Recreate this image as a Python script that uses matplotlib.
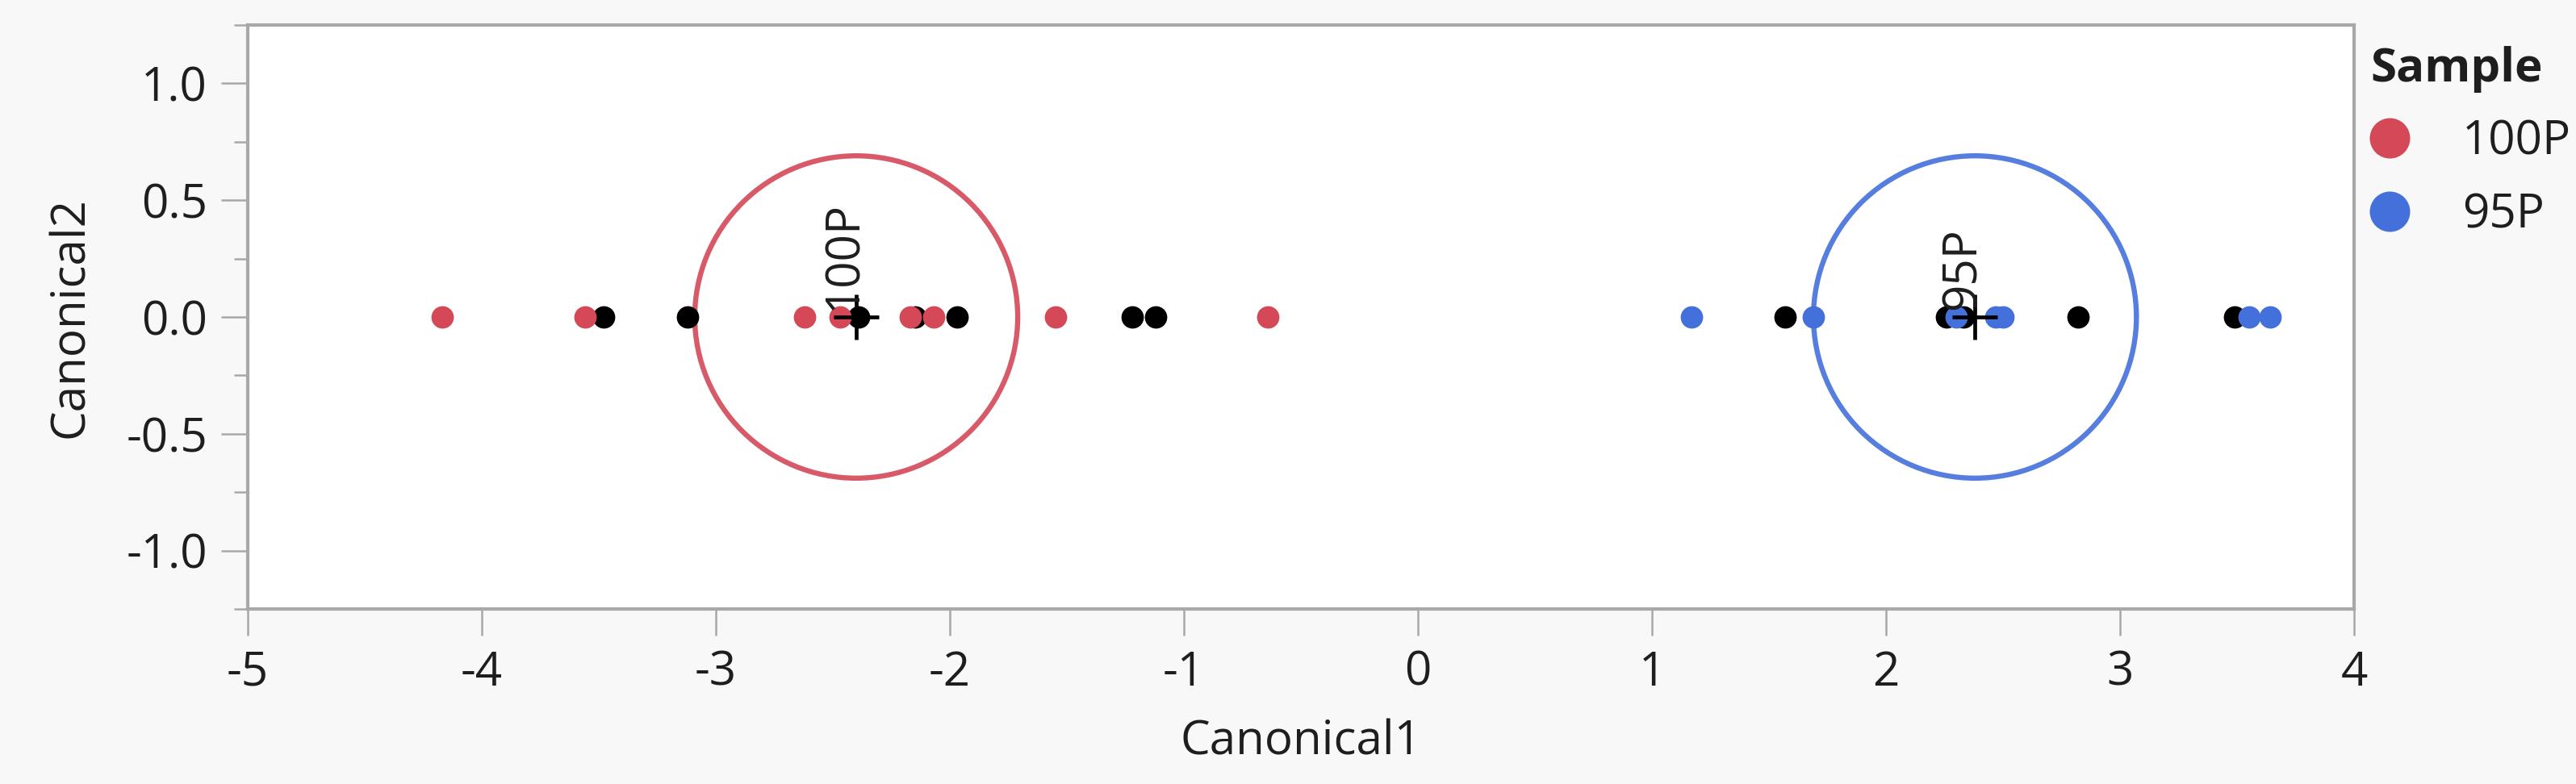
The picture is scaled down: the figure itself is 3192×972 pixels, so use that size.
import matplotlib
matplotlib.use('Agg')
import matplotlib.pyplot as plt
from matplotlib.patches import Circle
from matplotlib.lines import Line2D
from matplotlib.ticker import MultipleLocator

plt.rcParams['font.family'] = ['Open Sans', 'DejaVu Sans']
plt.rcParams['axes.unicode_minus'] = False

# ---- data ----
red_x = [-4.17, -3.56, -2.62, -2.47, -2.17, -2.07, -1.55, -0.64]
red_y = [0.0, 0.0, 0.0, 0.0, 0.0, 0.0, 0.0, 0.0]
blue_x = [1.17, 1.69, 2.30, 2.47, 2.50, 3.55, 3.64]
blue_y = [0.0, 0.0, 0.0, 0.0, 0.0, 0.0, 0.0]
black_x = [-3.48, -3.12, -2.39, -2.15, -1.97, -1.22, -1.12, 1.57, 2.26, 2.33, 2.82, 3.49]
black_y = [0.0, 0.0, 0.0, 0.0, 0.0, 0.0, 0.0, 0.0, 0.0, 0.0, 0.0, 0.0]
group_names = ['100P', '95P']
centroid_x = [-2.40, 2.38]
centroid_y = [0.0, 0.0]
circle_radius = [0.69, 0.69]
x_ticks = [-5, -4, -3, -2, -1, 0, 1, 2, 3, 4]
y_ticks = [-1.0, -0.5, 0.0, 0.5, 1.0]

RED = '#D44858'
BLUE = '#4470DC'
GRID = '#A8A8A8'
TXT = '#1E1E1E'
FS = 42

W, H = 3192, 972
fig = plt.figure(figsize=(W / 100, H / 100), dpi=100, facecolor='#F8F8F8')
ax = fig.add_axes([307 / W, 1 - 755 / H, 2610 / W, 724 / H])
ax.set_facecolor('white')

for cx, cy, r, c in zip(centroid_x, centroid_y, circle_radius, [RED, BLUE]):
    ax.add_patch(Circle((cx, cy), r, fill=False, edgecolor=c, lw=4.6, alpha=0.9, zorder=2))

s = 400
ax.scatter(black_x, black_y, s=s, color='black', linewidths=0, zorder=3)
ax.scatter(red_x, red_y, s=s, color=RED, linewidths=0, zorder=3)
ax.scatter(blue_x, blue_y, s=s, color=BLUE, linewidths=0, zorder=3)

ax.plot(centroid_x, centroid_y, '+', color='black', ms=40, mew=3.4, zorder=5, linestyle='none')
for cx, cy, name in zip(centroid_x, centroid_y, group_names):
    ax.text(cx, cy + 0.03, name, rotation=90, rotation_mode='anchor', ha='left', va='baseline',
            fontsize=FS, color=TXT, zorder=6)

ax.set_xlim(-5, 4)
ax.set_ylim(-1.25, 1.25)
ax.set_xticks(x_ticks)
ax.set_xticklabels([str(v) for v in x_ticks])
ax.set_yticks(y_ticks)
ax.set_yticklabels(['%.1f' % v for v in y_ticks])
ax.yaxis.set_minor_locator(MultipleLocator(0.25))

for side in ['left', 'bottom', 'top', 'right']:
    ax.spines[side].set_color(GRID)
    ax.spines[side].set_linewidth(3.0)
ax.tick_params(axis='both', which='major', length=24, width=1.8, color=GRID, labelsize=FS,
               labelcolor=TXT, pad=12)
ax.tick_params(axis='y', which='minor', length=12, width=1.8, color=GRID)

ax.set_xlabel('Canonical1', fontsize=FS, color=TXT, labelpad=20)
ax.set_ylabel('Canonical2', fontsize=FS, color=TXT, labelpad=28)

handles = [Line2D([], [], marker='o', linestyle='none', color=RED, markersize=36, markeredgewidth=0),
           Line2D([], [], marker='o', linestyle='none', color=BLUE, markersize=36, markeredgewidth=0)]
leg = fig.legend(handles, group_names, title='Sample', loc='upper left',
                 bbox_to_anchor=(2911 / W, 1 - 31 / H), frameon=False, fontsize=FS,
                 title_fontproperties={'weight': 'bold', 'size': FS}, handlelength=0.8,
                 handletextpad=1.15, labelspacing=0.55, borderpad=0.45, borderaxespad=0,
                 alignment='left')
for t in leg.get_texts():
    t.set_color(TXT)
leg.get_title().set_color(TXT)

fig.savefig('out.png', dpi=100, facecolor=fig.get_facecolor())
